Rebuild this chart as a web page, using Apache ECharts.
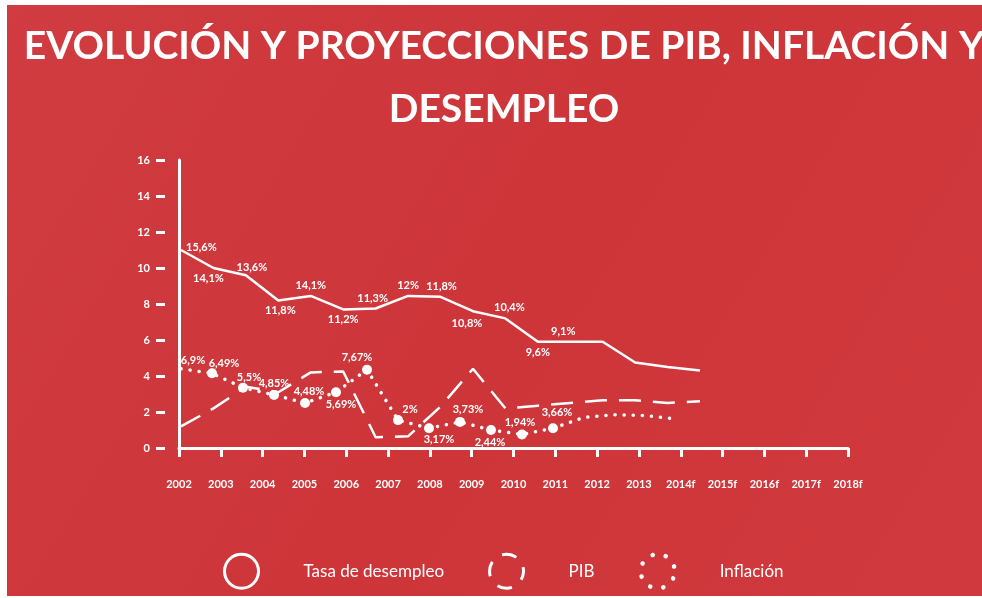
<!DOCTYPE html>
<html>
<head>
<meta charset="utf-8">
<script src="https://cdn.jsdelivr.net/npm/echarts@6/dist/echarts.min.js"></script>
<style>
  html, body { margin: 0; padding: 0; background: #fff; }
  #chart { width: 982px; height: 598px; }
</style>
</head>
<body>
<div id="chart"></div>
<script>
  // years on the axis
  var years = ['2002', '2003', '2004', '2005', '2006', '2007', '2008', '2009', '2010', '2011', '2012', '2013', '2014f', '2015f', '2016f', '2017f', '2018f']
  var yTicks = [0, 2, 4, 6, 8, 10, 12, 14, 16]

  // plotted heights
  var desempleo = [11.0, 10.0, 9.6, 8.2, 8.45, 7.7, 7.75, 8.45, 8.4, 7.6, 7.2, 5.9, 5.9, 5.9, 4.75, 4.5, 4.3]
  var pib = [1.2, 2.2, 3.4, 3.1, 4.2, 4.25, 0.6, 0.65, 2.3, 4.4, 2.2, 2.35, 2.5, 2.65, 2.65, 2.5, 2.6]
  var inflacion = [4.4, 4.15, 3.35, 2.95, 2.5, 3.1, 4.35, 1.55, 1.1, 1.45, 1.0, 0.75, 1.1, 1.7, 1.85, 1.8, 1.6]

  // printed labels
  var desempleoTxt = ['15,6%', '14,1%', '13,6%', '11,8%', '14,1%', '11,2%', '11,3%', '12%', '11,8%', '10,8%', '10,4%', '9,6%', '9,1%']
  var inflacionTxt = ['6,9%', '6,49%', '5,5%', '4,85%', '4,48%', '5,69%', '7,67%', '2%', '3,17%', '3,73%', '2,44%', '1,94%', '3,66%']

  // label placement (position, dx, dy)
  var desempleoPos = [['right', 0, -3], ['bottom', -5, 0], ['top', 6, 3], ['bottom', 2, 0], ['top', 0, 0], ['bottom', 0, 0],
    ['top', -3, 0], ['top', 0, 0], ['top', 1, 0], ['bottom', -6, 2], ['top', 4, 0], ['bottom', 0, 0], ['top', -7, 0]]
  var inflacionPos = [['top', 12, 2], ['top', 12, 6], ['top', 6, 5], ['top', 0, 4], ['top', 4, 4], ['bottom', 5, -3],
    ['top', -10, 3], ['top', 12, 5], ['bottom', 10, -4], ['top', 8, 3], ['bottom', -1, -3], ['top', -2, 3], ['top', 4, 0]]

  var font = 'Lato, "Open Sans", sans-serif'
  var labelStyle = { color: '#fff', fontFamily: font, fontSize: 11, fontWeight: 'bold' }

  function withLabels(values, texts, pos) {
    return values.map(function (v, i) {
      if (i >= texts.length) return { value: v, label: { show: false } }
      return {
        value: v,
        label: Object.assign({
          show: true,
          formatter: texts[i],
          position: pos[i][0],
          offset: [pos[i][1], pos[i][2]]
        }, labelStyle)
      }
    })
  }

  var chart = echarts.init(document.getElementById('chart'))

  var base = { top: 160, bottom: 150 }

  chart.setOption({
    animation: false,
    backgroundColor: '#fff',
    graphic: [{
      type: 'rect',
      z: -10,
      silent: true,
      shape: { x: 7, y: 5, width: 975, height: 591 },
      style: {
        fill: new echarts.graphic.LinearGradient(0, 0, 1, 1, [
          { offset: 0, color: '#d03c41' },
          { offset: 0.5, color: '#cd3539' },
          { offset: 1, color: '#d0393d' }
        ])
      }
    }],
    title: {
      text: 'EVOLUCIÓN Y PROYECCIONES DE PIB, INFLACIÓN Y\nDESEMPLEO',
      left: 499,
      top: 10,
      textAlign: 'center',
      textStyle: {
        color: '#fff',
        fontFamily: font,
        fontSize: 39,
        fontWeight: 'bold',
        lineHeight: 63
      }
    },
    legend: {
      left: 223,
      top: 552,
      padding: 0,
      itemWidth: 34,
      itemHeight: 34,
      itemGap: 44,
      selectedMode: false,
      textStyle: { color: '#fff', fontFamily: font, fontSize: 17, padding: [0, 0, 0, 40] },
      data: [
        { name: 'Tasa de desempleo', icon: 'circle', itemStyle: { color: 'rgba(0,0,0,0)', borderColor: '#fff', borderWidth: 3 } },
        { name: 'PIB', icon: 'circle', itemStyle: { color: 'rgba(0,0,0,0)', borderColor: '#fff', borderWidth: 3, borderType: [15, 12], borderDashOffset: 6 } },
        { name: 'Inflación', icon: 'circle', itemStyle: { color: 'rgba(0,0,0,0)', borderColor: '#fff', borderWidth: 4.5, borderType: [0.1, 13.3], borderCap: 'round' } }
      ]
    },
    grid: [
      Object.assign({ left: 179, right: 134 }, base),
      Object.assign({ left: 181, right: 282 }, base),
      Object.assign({ left: 181, right: 305 }, base)
    ],
    xAxis: [
      {
        gridIndex: 0, type: 'category', data: years, boundaryGap: false, position: 'bottom',
        axisLine: { lineStyle: { color: '#fff', width: 3 } },
        axisTick: { show: false }, axisLabel: { show: false }
      },
      {
        gridIndex: 0, type: 'category', data: years, boundaryGap: false, position: 'bottom', offset: 14,
        axisLine: { show: false },
        axisTick: { show: true, length: 9, lineStyle: { color: '#fff', width: 3 } },
        axisLabel: { color: '#fff', fontFamily: font, fontSize: 11, fontWeight: 'bold', margin: 17, interval: 0 }
      },
      { gridIndex: 1, type: 'category', data: years, boundaryGap: false, show: false },
      { gridIndex: 2, type: 'category', data: years, boundaryGap: false, show: false }
    ],
    yAxis: [
      {
        gridIndex: 0, type: 'value', min: 0, max: 16, interval: 2, position: 'left',
        axisLine: { show: true, lineStyle: { color: '#fff', width: 3 } },
        axisTick: { show: false }, axisLabel: { show: false }, splitLine: { show: false }
      },
      {
        gridIndex: 0, type: 'value', min: 0, max: 16, interval: 2, position: 'left', offset: 14,
        axisLine: { show: false },
        axisTick: { show: true, length: 9, lineStyle: { color: '#fff', width: 3 } },
        axisLabel: {
          color: '#fff', fontFamily: font, fontSize: 11, fontWeight: 'bold', margin: 15,
          formatter: function (v) { return yTicks.indexOf(v) >= 0 ? String(v) : '' }
        },
        splitLine: { show: false }
      },
      { gridIndex: 1, type: 'value', min: 0, max: 16, show: false, splitLine: { show: false } },
      { gridIndex: 2, type: 'value', min: 0, max: 16, show: false, splitLine: { show: false } }
    ],
    series: [
      {
        name: 'Tasa de desempleo',
        type: 'line',
        xAxisIndex: 2, yAxisIndex: 2,
        data: withLabels(desempleo, desempleoTxt, desempleoPos),
        symbol: 'circle', symbolSize: 0.01, showAllSymbol: true,
        itemStyle: { color: '#fff' },
        lineStyle: { color: '#fff', width: 2.5 }
      },
      {
        name: 'PIB',
        type: 'line',
        xAxisIndex: 2, yAxisIndex: 2,
        data: pib,
        symbol: 'none',
        itemStyle: { color: '#fff' },
        lineStyle: { color: '#fff', width: 2.5, type: [22, 12] }
      },
      {
        name: 'Inflación',
        type: 'line',
        xAxisIndex: 3, yAxisIndex: 3,
        data: withLabels(inflacion, inflacionTxt, inflacionPos),
        symbol: 'circle', showAllSymbol: true,
        symbolSize: function (v, p) { return (p.dataIndex >= 1 && p.dataIndex <= 12) ? 10 : 0.01 },
        itemStyle: { color: '#fff' },
        lineStyle: { color: '#fff', width: 3.5, type: [0.1, 9], cap: 'round' }
      }
    ]
  })
</script>
</body>
</html>
